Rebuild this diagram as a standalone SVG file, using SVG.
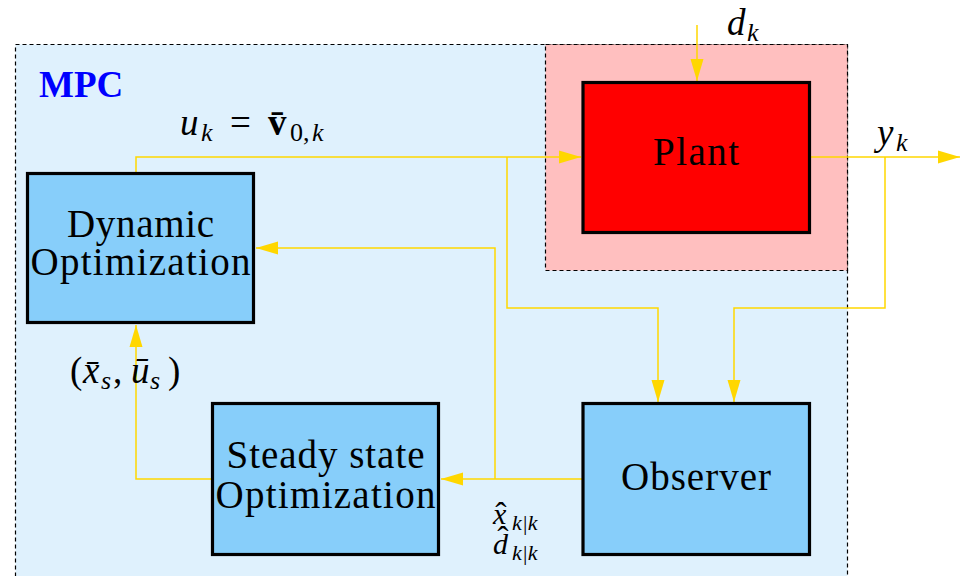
<svg xmlns="http://www.w3.org/2000/svg" width="960" height="576" viewBox="0 0 960 576">
<style>
.box{fill:#87cefa;stroke:#000;stroke-width:3.2}
.lbl{font-family:"Liberation Serif","DejaVu Serif",serif;font-size:39px;fill:#000;text-anchor:middle}
.math{font-family:"Liberation Serif","DejaVu Serif",serif;font-style:italic;font-size:37px;fill:#000}
.up{font-style:normal}
.sm{font-size:30px}
.sub{font-size:26px}
.ssub{font-size:22px}
.hat{font-family:"Liberation Serif","DejaVu Serif",serif;font-size:34px;fill:#000;text-anchor:middle}
.wire{fill:none;stroke:#ffd700;stroke-width:1.5}
.dash{stroke:#000;stroke-width:1.2;stroke-dasharray:4,3}
</style>
<defs>
<marker id="ah" markerUnits="userSpaceOnUse" markerWidth="22" markerHeight="14" refX="22" refY="7" orient="auto">
<path d="M0,0.5 L22,7 L0,13.5 z" fill="#ffd700"/>
</marker>
</defs>
<rect x="0" y="0" width="960" height="576" fill="#fff"/>
<g id="mpc">
<rect x="15.5" y="44.5" width="832" height="540" fill="#dff1fd" class="dash"/>
<text x="39" y="97" style="font-family:'Liberation Serif','DejaVu Serif',serif;font-weight:bold;font-size:37px;fill:#0000ff">MPC</text>
</g>
<g id="plant-area">
<rect x="545.5" y="44.5" width="302" height="226" fill="#ffbfbf" class="dash"/>
</g>
<g id="connectors">
<path class="wire" d="M136,172 V157 H581" marker-end="url(#ah)"/>
<path class="wire" d="M507,157 V308 H658 V402" marker-end="url(#ah)"/>
<path class="wire" d="M697,25 V81" marker-end="url(#ah)"/>
<path class="wire" d="M811,157 H960" marker-end="url(#ah)"/>
<path class="wire" d="M885,157 V308 H734 V402" marker-end="url(#ah)"/>
<path class="wire" d="M582,479 H441" marker-end="url(#ah)"/>
<path class="wire" d="M495,479 V248 H256" marker-end="url(#ah)"/>
<path class="wire" d="M211,479 H136 V325" marker-end="url(#ah)"/>
</g>
<g id="plant">
<rect x="583" y="82.5" width="226.5" height="150" fill="#ff0000" stroke="#000" stroke-width="3.2"/>
<text class="lbl" x="696" y="165" textLength="86">Plant</text>
</g>
<g id="dynamic-optimization">
<rect class="box" x="27.5" y="173.5" width="226" height="149"/>
<text class="lbl" x="140.5" y="237" textLength="147">Dynamic</text>
<text class="lbl" x="140.5" y="275" textLength="220">Optimization</text>
</g>
<g id="steady-state-optimization">
<rect class="box" x="212.5" y="403.5" width="226" height="151"/>
<text class="lbl" x="325.5" y="468" textLength="198">Steady state</text>
<text class="lbl" x="325.5" y="508" textLength="220">Optimization</text>
</g>
<g id="observer">
<rect class="box" x="583" y="403.5" width="226.5" height="151"/>
<text class="lbl" x="696" y="490" textLength="150">Observer</text>
</g>
<g id="labels">
<text class="math" y="135"><tspan x="180">u</tspan><tspan class="sub" x="201" y="141">k</tspan><tspan class="up" x="230" y="135">=</tspan><tspan class="up" font-weight="bold" x="268">v̄</tspan><tspan class="sub up" x="290" y="141">0,</tspan><tspan class="sub" x="312">k</tspan></text>
<text class="math" y="35"><tspan x="727">d</tspan><tspan class="sub" x="747" y="41">k</tspan></text>
<text class="math" y="145"><tspan x="877">y</tspan><tspan class="sub" x="896" y="151">k</tspan></text>
<text class="math" y="383"><tspan class="up" x="70">(</tspan><tspan x="83">x̄</tspan><tspan class="sub" x="101" y="389">s</tspan><tspan class="up" x="113" y="383">,</tspan><tspan x="131">ū</tspan><tspan class="sub" x="150" y="389">s</tspan><tspan class="up" x="168" y="383">)</tspan></text>
<text class="math sm" y="524"><tspan x="493">x</tspan><tspan class="ssub" x="512" y="530">k|k</tspan></text>
<text class="hat" x="501" y="526">ˆ</text>
<text class="math sm" y="554"><tspan x="493">d</tspan><tspan class="ssub" x="512" y="560">k|k</tspan></text>
<text class="hat" x="503" y="550">ˆ</text>
</g>
</svg>
